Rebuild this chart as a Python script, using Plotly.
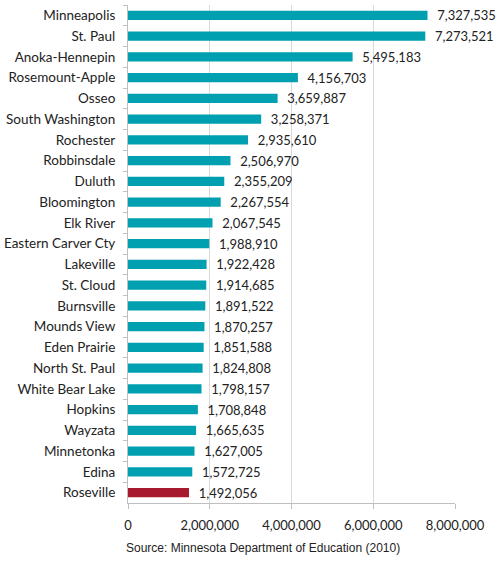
import plotly.graph_objects as go

districts = ["Minneapolis", "St. Paul", "Anoka-Hennepin", "Rosemount-Apple", "Osseo",
             "South Washington", "Rochester", "Robbinsdale", "Duluth", "Bloomington",
             "Elk River", "Eastern Carver Cty", "Lakeville", "St. Cloud", "Burnsville",
             "Mounds View", "Eden Prairie", "North St. Paul", "White Bear Lake", "Hopkins",
             "Wayzata", "Minnetonka", "Edina", "Roseville"]
values = [7327535, 7273521, 5495183, 4156703, 3659887, 3258371, 2935610, 2506970,
          2355209, 2267554, 2067545, 1988910, 1922428, 1914685, 1891522, 1870257,
          1851588, 1824808, 1798157, 1708848, 1665635, 1627005, 1572725, 1492056]
highlight = "Roseville"
x_ticks = [0, 2000000, 4000000, 6000000, 8000000]

colors = ["#A6192E" if d == highlight else "#00A0B0" for d in districts]
FONT = "Lato, Open Sans, sans-serif"

fig = go.Figure(go.Bar(
    y=districts, x=values, orientation="h",
    marker=dict(color=colors, line=dict(width=0)),
    text=["\u00a0\u00a0" + f"{v:,}" for v in values], textposition="outside",
    constraintext="none",
    textfont=dict(family=FONT, size=13, color="#222222"),
    cliponaxis=False, hoverinfo="skip",
))

fig.update_layout(
    width=496, height=562,
    margin=dict(l=128, r=41, t=5, b=59),
    paper_bgcolor="white", plot_bgcolor="white",
    bargap=0.56, showlegend=False,
    font=dict(family=FONT, size=13, color="#222222"),
)
fig.update_yaxes(
    autorange="reversed", showline=True, linecolor="#BFBFBF", linewidth=1,
    ticks="outside", tickson="boundaries", ticklen=4, tickcolor="#BFBFBF",
    showgrid=False, ticklabelstandoff=9, automargin=False,
    tickfont=dict(family=FONT, size=13.5, color="#222222"),
)
fig.update_xaxes(
    range=[0, 8000000], tickvals=x_ticks, ticktext=[f"{t:,}" for t in x_ticks],
    showline=True, linecolor="#BFBFBF", linewidth=1,
    ticks="outside", ticklen=5, tickcolor="#BFBFBF",
    showgrid=True, gridcolor="#D9D9D9", zeroline=False, automargin=False,
    ticklabelstandoff=5,
    tickfont=dict(family=FONT, size=13, color="#222222"),
)
fig.add_annotation(
    text="Source: Minnesota Department of Education (2010)",
    xref="paper", yref="paper", x=0, y=0, xshift=-4, yshift=-45,
    xanchor="left", yanchor="middle", showarrow=False,
    font=dict(family="Liberation Sans, Arial, sans-serif", size=12, color="#222222"),
)
fig.write_html("out.html", config={"displayModeBar": False},
               post_script="document.body.style.margin='0';")
